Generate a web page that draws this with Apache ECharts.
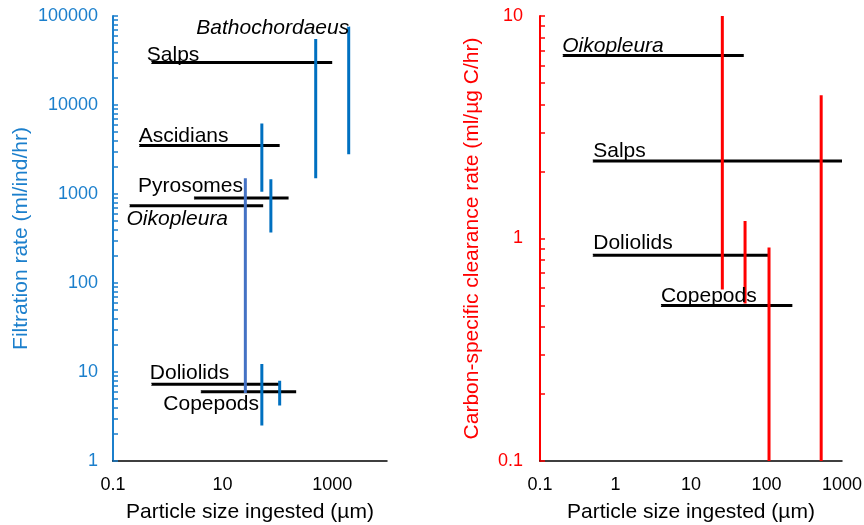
<!DOCTYPE html>
<html><head><meta charset="utf-8">
<script src="https://cdn.jsdelivr.net/npm/echarts@6/dist/echarts.min.js"></script>
<style>html,body{margin:0;padding:0;background:#fff}#c{width:864px;height:525px}</style>
</head><body><div id="c"></div>
<script>
// ---------- Left panel: filtration rate (ml/ind/hr) vs particle size (µm) ----------
const leftHNames   = ['Salps', 'Ascidians', 'Pyrosomes', 'Oikopleura', 'Doliolids', 'Copepods'];
const leftHRate    = [30000, 3500, 900, 740, 7.3, 6.0];
const leftHSizeMin = [0.5, 0.3, 3, 0.2, 0.5, 4];
const leftHSizeMax = [1000, 110, 160, 55, 110, 220];

const leftVNames   = ['Bathochordaeus', 'Salps', 'Ascidians', 'Pyrosomes', 'Oikopleura', 'Doliolids', 'Copepods'];
const leftVSize    = [2000, 500, 52, 76, 26, 52, 110];
const leftVRateMin = [2800, 1500, 1060, 370, 5.8, 2.5, 4.2];
const leftVRateMax = [76000, 55000, 6200, 1460, 1500, 12.3, 8];

const leftXTicks = [0.1, 10, 1000];
const leftYTicks = [1, 10, 100, 1000, 10000, 100000];

// ---------- Right panel: carbon-specific clearance rate vs particle size ----------
const rightHNames   = ['Oikopleura', 'Salps', 'Doliolids', 'Copepods'];
const rightHRate    = [6.65, 2.23, 0.84, 0.50];
const rightHSizeMin = [0.2, 0.5, 0.5, 4];
const rightHSizeMax = [50, 1000, 105, 220];

const rightVSize    = [26, 52, 108, 530];
const rightVRateMin = [0.59, 0.51, 0.1, 0.1];
const rightVRateMax = [10, 1.2, 0.91, 4.4];

const rightXTicks = [0.1, 1, 10, 100, 1000];
const rightYTicks = [0.1, 1, 10];

// ---------- styles ----------
const FONT = 'Liberation Sans, Arial, sans-serif';
const BLUE = '#1B7FCC';
const LINE_BLUE = '#0070C0';
const OIKO_BLUE = '#4472C4';
const RED = '#FF0000';
const italicNames = ['Oikopleura', 'Bathochordaeus'];
// label offsets (px) relative to line start point
const leftLabelOffsets = {
  Salps: [-4, -7], Ascidians: [0, -8.5], Pyrosomes: [-55.5, -11],
  Oikopleura: [-2.5, 14], Doliolids: [-1, -10.5], Copepods: [-37, 13]
};
const bathoOffset = [1, 2];
const rightLabelOffsets = {
  Oikopleura: [0, -8.5], Salps: [1, -9], Doliolids: [1, -12], Copepods: [0.5, -8.5]
};

function minorTicks(lo, hi) {
  const out = [];
  for (let e = lo; e < hi; e++) {
    for (let m = 1; m <= 9; m++) out.push(+(m * Math.pow(10, e)).toPrecision(6));
  }
  out.push(+Math.pow(10, hi).toPrecision(6));
  return out;
}
const fmt = v => String(+(+v).toPrecision(6));

function seg(xi, data, color, width, z) {
  return {
    type: 'line', xAxisIndex: xi, yAxisIndex: xi, data: data,
    symbol: 'none', silent: true, animation: false, z: z,
    lineStyle: { color: color, width: width, cap: 'butt' }
  };
}

const series = [];
// horizontal black lines
leftHNames.forEach((n, i) => series.push(seg(0, [[leftHSizeMin[i], leftHRate[i]], [leftHSizeMax[i], leftHRate[i]]], '#000', 3, 2)));
rightHNames.forEach((n, i) => series.push(seg(1, [[rightHSizeMin[i], rightHRate[i]], [rightHSizeMax[i], rightHRate[i]]], '#000', 3, 2)));
// vertical coloured lines
leftVNames.forEach((n, i) => series.push(seg(0, [[leftVSize[i], leftVRateMin[i]], [leftVSize[i], leftVRateMax[i]]], n === 'Oikopleura' ? OIKO_BLUE : LINE_BLUE, 3, 3)));
rightVSize.forEach((s, i) => series.push(seg(1, [[s, rightVRateMin[i]], [s, rightVRateMax[i]]], RED, 3, 3)));

function labelItem(name, x, y, off, align) {
  return {
    value: [x, y],
    label: {
      show: true, formatter: name, position: [0, 0], align: align, verticalAlign: 'middle',
      offset: off, fontSize: 21, fontFamily: FONT, color: '#000', opacity: 1,
      fontStyle: italicNames.includes(name) ? 'italic' : 'normal'
    }
  };
}
const leftLabels = leftHNames.map((n, i) => labelItem(n, leftHSizeMin[i], leftHRate[i], leftLabelOffsets[n], 'left'));
leftLabels.push(labelItem('Bathochordaeus', leftVSize[0], leftVRateMax[0], bathoOffset, 'right'));
const rightLabels = rightHNames.map((n, i) => labelItem(n, rightHSizeMin[i], rightHRate[i], rightLabelOffsets[n], 'left'));
[[0, leftLabels], [1, rightLabels]].forEach(([xi, d]) => series.push({
  type: 'scatter', xAxisIndex: xi, yAxisIndex: xi, data: d, symbolSize: 1,
  itemStyle: { color: '#fff', opacity: 1 }, silent: true, animation: false, z: 5
}));

function xAxis(gi, min, max, ticks) {
  return {
    type: 'log', logBase: 10, gridIndex: gi, min: min, max: max,
    axisLine: { show: true, onZero: false, lineStyle: { color: '#000', width: 1.5 } },
    axisTick: { show: false }, splitLine: { show: false }, minorTick: { show: false },
    axisLabel: { customValues: ticks, formatter: fmt, fontSize: 18, fontFamily: FONT, color: '#000', margin: 15 },
    name: 'Particle size ingested (µm)', nameLocation: 'middle', nameGap: 41,
    nameTextStyle: { fontSize: 21, fontFamily: FONT, color: '#000' }
  };
}
function yAxis(gi, min, max, ticks, loE, hiE, color, name, gap, margin) {
  return {
    type: 'log', logBase: 10, gridIndex: gi, min: min, max: max,
    axisLine: { show: true, onZero: false, lineStyle: { color: color, width: 2 } },
    axisTick: { show: true, inside: true, length: 5, customValues: minorTicks(loE, hiE), lineStyle: { color: color, width: 1.5 } },
    splitLine: { show: false },
    axisLabel: { customValues: ticks, formatter: fmt, fontSize: 18, fontFamily: FONT, color: color, margin: margin },
    name: name, nameLocation: 'middle', nameGap: gap,
    nameTextStyle: { fontSize: 21, fontFamily: FONT, color: color }
  };
}

const chart = echarts.init(document.getElementById('c'), null, { renderer: 'canvas' });
chart.setOption({
  animation: false,
  backgroundColor: '#fff',
  textStyle: { fontFamily: FONT },
  grid: [
    { left: 113, top: 16, width: 274, height: 445, outerBoundsMode: 'none', containLabel: false },
    { left: 540, top: 16, width: 302, height: 445, outerBoundsMode: 'none', containLabel: false }
  ],
  xAxis: [xAxis(0, 0.1, 10000, leftXTicks), xAxis(1, 0.1, 1000, rightXTicks)],
  yAxis: [
    yAxis(0, 1, 100000, leftYTicks, 0, 5, BLUE, 'Filtration rate (ml/ind/hr)', 81, 15),
    yAxis(1, 0.1, 10, rightYTicks, -1, 1, RED, 'Carbon-specific clearance rate (ml/µg C/hr)', 57, 17)
  ],
  series: series
});
</script></body></html>
